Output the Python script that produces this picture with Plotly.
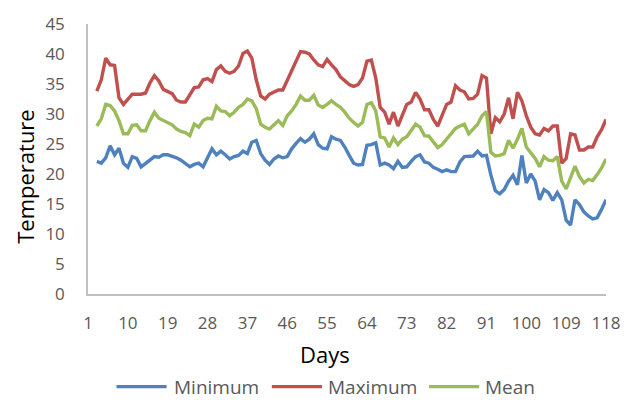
import plotly.graph_objects as go

# Daily temperature series (days 3 to 118)
days = list(range(3, 119))

minimum = [22.1, 21.8, 22.7, 24.7, 23.2, 24.3, 21.8, 21.1, 22.9, 22.6, 21.2, 21.8, 22.3, 22.9, 22.8,
           23.2, 23.2, 23.0, 22.7, 22.3, 21.8, 21.2, 21.6, 21.8, 21.2, 22.6, 24.2, 23.2, 23.8, 23.2,
           22.5, 22.9, 23.1, 23.8, 23.4, 25.3, 25.6, 23.4, 22.3, 21.6, 22.5, 23.0, 22.7, 22.9, 24.2,
           25.1, 25.9, 25.3, 25.8, 26.7, 24.9, 24.3, 24.2, 26.2, 25.8, 25.6, 24.5, 23.1, 21.8, 21.5,
           21.6, 24.8, 24.9, 25.2, 21.5, 21.8, 21.5, 20.9, 22.1, 21.1, 21.2, 22.1, 22.9, 23.2, 22.0,
           21.8, 21.1, 20.8, 20.4, 20.7, 20.4, 20.4, 22.0, 22.9, 22.9, 23.0, 23.8, 23.0, 23.1, 19.8,
           17.2, 16.7, 17.4, 18.8, 19.8, 18.2, 23.1, 18.5, 20.0, 18.8, 15.7, 17.4, 16.9, 15.6, 16.9,
           15.7, 12.3, 11.5, 15.7, 14.9, 13.7, 13.0, 12.5, 12.7, 14.1, 15.7]

maximum = [33.8, 35.7, 39.3, 38.2, 38.1, 32.7, 31.6, 32.5, 33.3, 33.3, 33.3, 33.5, 35.2, 36.4, 35.5,
           34.1, 33.8, 33.4, 32.3, 32.0, 32.0, 33.1, 34.4, 34.5, 35.7, 35.9, 35.4, 37.4, 38.0, 37.1,
           36.8, 37.1, 38.0, 40.1, 40.5, 39.3, 35.7, 33.0, 32.5, 33.3, 33.7, 34.0, 34.0, 35.6, 37.1,
           38.8, 40.4, 40.3, 40.0, 39.0, 38.2, 37.9, 39.1, 38.2, 37.4, 36.2, 35.5, 34.9, 34.6, 34.9,
           36.0, 38.8, 39.0, 36.0, 31.1, 30.3, 28.3, 30.3, 28.0, 30.0, 31.6, 32.0, 33.6, 32.5, 30.7,
           30.7, 29.1, 28.0, 30.0, 31.6, 32.0, 34.7, 34.0, 33.7, 32.5, 32.6, 33.3, 36.4, 36.0, 26.7,
           29.4, 28.7, 30.0, 32.7, 29.2, 33.6, 32.2, 29.7, 27.8, 26.7, 26.5, 27.6, 27.2, 28.0, 28.0,
           21.8, 22.6, 26.7, 26.5, 24.0, 24.0, 24.5, 24.5, 26.2, 27.4, 29.1]

mean = [28.0, 29.2, 31.6, 31.4, 30.5, 28.9, 26.7, 26.7, 28.1, 28.2, 27.2, 27.2, 28.9, 30.3, 29.3,
        28.9, 28.6, 28.2, 27.5, 27.1, 26.9, 26.4, 28.3, 27.8, 28.9, 29.3, 29.2, 31.3, 30.5, 30.4,
        29.7, 30.3, 31.1, 31.6, 32.5, 32.2, 30.9, 28.3, 27.8, 27.5, 28.2, 28.9, 28.1, 29.7, 30.5,
        31.6, 33.0, 32.3, 32.3, 33.1, 31.5, 31.1, 31.6, 32.2, 31.6, 31.1, 30.3, 29.3, 28.6, 28.0,
        28.6, 31.6, 31.9, 30.5, 26.2, 26.0, 24.5, 26.0, 24.9, 25.8, 26.2, 27.3, 28.3, 27.8, 26.4,
        26.3, 25.3, 24.4, 24.9, 25.8, 26.8, 27.6, 28.0, 28.3, 26.7, 27.6, 28.3, 29.7, 30.4, 23.6,
        23.0, 23.1, 23.4, 25.6, 24.3, 25.8, 27.6, 24.5, 23.6, 22.6, 21.2, 22.9, 22.3, 22.2, 22.9,
        18.8, 17.5, 19.6, 21.3, 19.6, 18.5, 19.1, 18.9, 19.9, 21.0, 22.5]

x_ticks = [1, 10, 19, 28, 37, 46, 55, 64, 73, 82, 91, 100, 109, 118]
y_ticks = [0, 5, 10, 15, 20, 25, 30, 35, 40, 45]

series_names = ["Minimum", "Maximum", "Mean"]
series_colors = ["#4F81BD", "#C0504D", "#9BBB59"]
series_values = [minimum, maximum, mean]

W, H = 633, 403
ML, MR, MT, MB = 88, 18, 20, 109
PW, PH = W - ML - MR, H - MT - MB

fig = go.Figure()
for name, color, vals in zip(series_names, series_colors, series_values):
    fig.add_trace(go.Scatter(x=days, y=vals, mode="lines", name=name,
                             line=dict(color=color, width=3.4, shape="linear"),
                             showlegend=False, hoverinfo="skip"))

tick_font = dict(family="Open Sans", size=17, color="#595959")

# Legend drawn beneath the axis title
def px_x(p):
    return (p - ML) / PW

def px_y(p):
    return (H - MB - p) / PH

legend_items = [(117, 168, 173), (275, 326, 330), (435, 486, 490)]
shapes = []
annotations = []
for (x0, x1, tx), name, color in zip(legend_items, series_names, series_colors):
    shapes.append(dict(type="line", xref="paper", yref="paper",
                       x0=px_x(x0), x1=px_x(x1), y0=px_y(388), y1=px_y(388),
                       line=dict(color=color, width=3.4)))
    annotations.append(dict(text=name, xref="paper", yref="paper",
                            x=px_x(tx), y=px_y(388), xanchor="left", yanchor="middle",
                            showarrow=False, font=dict(family="Open Sans", size=19, color="#595959")))

annotations.append(dict(text="Days", xref="paper", yref="paper", x=px_x(329), y=px_y(355),
                        xanchor="center", yanchor="middle", showarrow=False,
                        font=dict(family="Open Sans", size=22, color="#000000")))
annotations.append(dict(text="Temperature", xref="paper", yref="paper", x=px_x(24), y=px_y(175),
                        xanchor="center", yanchor="middle", showarrow=False, textangle=-90,
                        font=dict(family="Open Sans", size=22, color="#000000")))

fig.update_layout(
    width=W, height=H,
    margin=dict(l=ML, r=MR, t=MT, b=MB, pad=0),
    paper_bgcolor="white", plot_bgcolor="white",
    showlegend=False,
    shapes=shapes,
    annotations=annotations,
    xaxis=dict(range=[1, 118], tickmode="array", tickvals=x_ticks,
               ticktext=[str(t) for t in x_ticks], showgrid=False, zeroline=False,
               showline=True, linecolor="#BFBFBF", linewidth=1.5, ticks="",
               tickfont=tick_font, ticklabelstandoff=13),
    yaxis=dict(range=[0, 45], tickmode="array", tickvals=y_ticks,
               ticktext=[str(t) for t in y_ticks], showgrid=False, zeroline=False,
               showline=True, linecolor="#BFBFBF", linewidth=1.5, ticks="",
               tickfont=tick_font, ticklabelstandoff=18),
)

fig.write_html("out.html")
